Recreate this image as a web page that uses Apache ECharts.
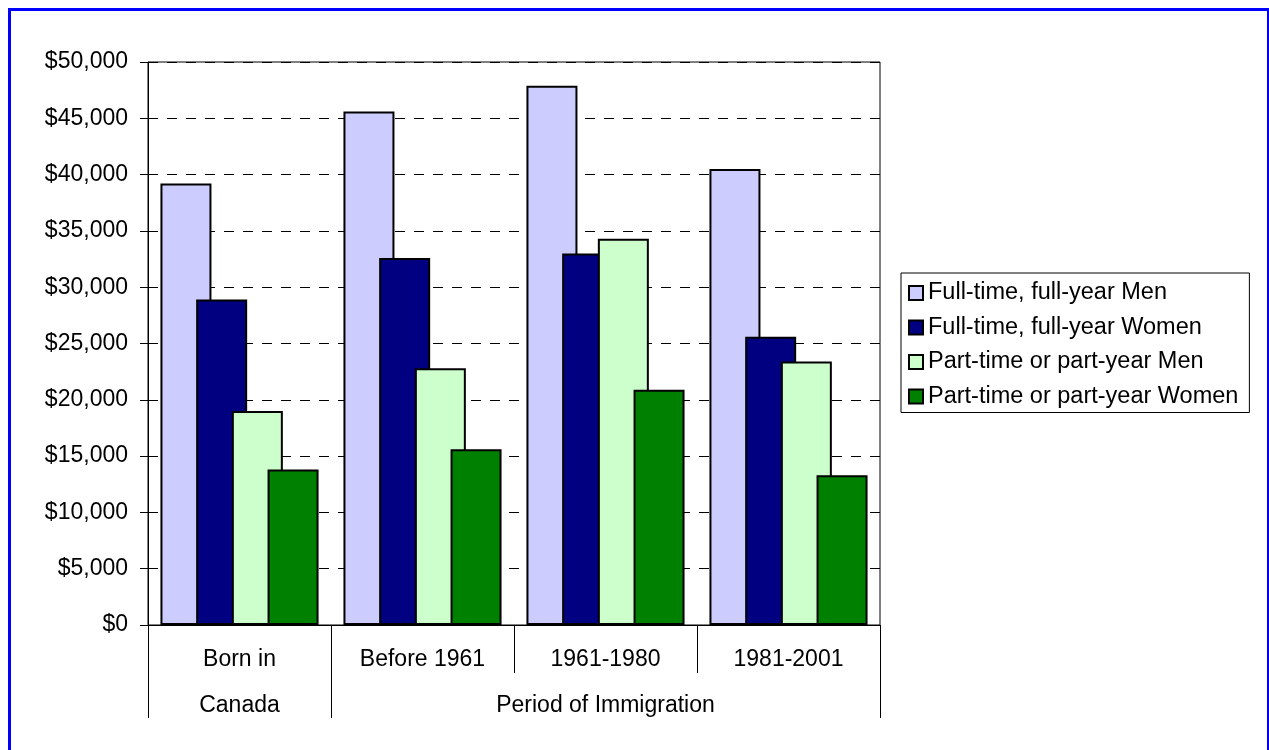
<!DOCTYPE html>
<html>
<head>
<meta charset="utf-8">
<script src="https://cdn.jsdelivr.net/npm/echarts@6/dist/echarts.min.js"></script>
<style>
html,body{margin:0;padding:0;background:#fff;}
#chart{width:1269px;height:750px;}
</style>
</head>
<body>
<div id="chart"></div>
<script>
// ---- data ----
var categories = ['Born in', 'Before 1961', '1961-1980', '1981-2001'];
var groupLabels = ['Canada', '', 'Period of Immigration', ''];
var seriesNames = ['Full-time, full-year Men', 'Full-time, full-year Women', 'Part-time or part-year Men', 'Part-time or part-year Women'];
var ftMen = [39200, 45600, 47900, 40500];
var ftWomen = [28900, 32600, 33000, 25600];
var ptMen = [19000, 22800, 34300, 23400];
var ptWomen = [13800, 15600, 20900, 13300];
var yMin = 0, yMax = 50000, yStep = 5000;

var colors = ['#CCCCFF', '#000080', '#CCFFCC', '#008000'];
var FONT = "'Liberation Sans', Arial, sans-serif";

var chart = echarts.init(document.getElementById('chart'), null, {renderer: 'canvas'});

function fmt(v) {
  return '$' + String(v).replace(/\B(?=(\d{3})+(?!\d))/g, ',');
}

var allData = [ftMen, ftWomen, ptMen, ptWomen];
var series = allData.map(function (d, i) {
  return {
    name: seriesNames[i],
    type: 'bar',
    data: d,
    barWidth: 51,
    barGap: '-30%',
    barCategoryGap: '14%',
    itemStyle: {color: colors[i], borderColor: '#000', borderWidth: 2},
    emphasis: {disabled: true},
    animation: false
  };
});

chart.setOption({
  animation: false,
  textStyle: {fontFamily: FONT, color: '#000'},
  grid: {left: 148, top: 62, right: 389, bottom: 125, show: true, borderColor: '#000', borderWidth: 1, backgroundColor: 'transparent'},
  legend: {
    orient: 'vertical',
    left: 901, top: 273,
    padding: [6, 11, 2, 7],
    itemGap: 6.5,
    itemWidth: 14, itemHeight: 14,
    icon: 'rect',
    borderColor: '#000', borderWidth: 1,
    textStyle: {fontFamily: FONT, fontSize: 23.5, color: '#000', lineHeight: 28},
    data: seriesNames,
    selectedMode: false
  },
  xAxis: [{
    type: 'category',
    data: categories,
    position: 'bottom',
    axisLine: {show: true, lineStyle: {color: '#000', width: 1}},
    axisTick: {show: true, length: 48, lineStyle: {color: '#000', width: 1}},
    axisLabel: {interval: 0, margin: 23, fontSize: 23, color: '#000', fontFamily: FONT},
    splitLine: {show: false}
  }, {
    type: 'category',
    data: groupLabels,
    position: 'bottom',
    axisLine: {show: false},
    axisTick: {show: true, length: 93, interval: function (idx) { return idx === 0 || idx === 1; }, lineStyle: {color: '#000', width: 1}},
    axisLabel: {interval: 0, margin: 69, fontSize: 23, color: '#000', fontFamily: FONT},
    splitLine: {show: false}
  }],
  yAxis: {
    type: 'value',
    min: yMin, max: yMax, interval: yStep,
    axisLine: {show: true, lineStyle: {color: '#000', width: 1}},
    axisTick: {show: true, length: 8, lineStyle: {color: '#000', width: 1}},
    axisLabel: {margin: 20, fontSize: 23, color: '#000', fontFamily: FONT, formatter: fmt},
    splitLine: {show: true, lineStyle: {color: '#000', width: 1, type: [10, 9]}}
  },
  graphic: [{
    type: 'rect',
    silent: true,
    z: 100,
    shape: {x: 9.5, y: 9.5, width: 1259, height: 760},
    style: {fill: null, stroke: '#0000FF', lineWidth: 3}
  }],
  series: series
});
</script>
</body>
</html>
